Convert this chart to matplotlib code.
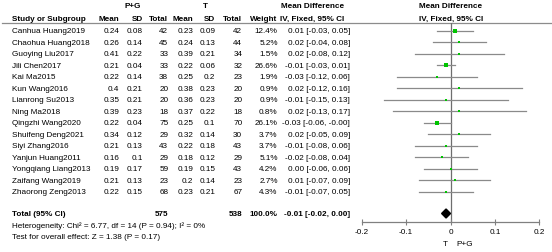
import matplotlib.pyplot as plt
from matplotlib.patches import Polygon

plt.rcParams["font.family"] = ["Liberation Sans", "DejaVu Sans"]

studies = ["Canhua Huang2019", "Chaohua Huang2018", "Guoying Liu2017", "Jili Chen2017",
           "Kai Ma2015", "Kun Wang2016", "Lianrong Su2013", "Ning Ma2018", "Qingzhi Wang2020",
           "Shuifeng Deng2021", "Siyi Zhang2016", "Yanjun Huang2011", "Yongqiang Liang2013",
           "Zaifang Wang2019", "Zhaorong Zeng2013"]
pg_mean = ["0.24", "0.26", "0.41", "0.21", "0.22", "0.4", "0.35", "0.39", "0.22",
           "0.34", "0.21", "0.16", "0.19", "0.21", "0.22"]
pg_sd = ["0.08", "0.14", "0.22", "0.04", "0.14", "0.21", "0.21", "0.23", "0.04",
         "0.12", "0.13", "0.1", "0.17", "0.13", "0.15"]
pg_total = [42, 45, 33, 33, 38, 20, 20, 18, 75, 29, 43, 29, 59, 23, 68]
t_mean = ["0.23", "0.24", "0.39", "0.22", "0.25", "0.38", "0.36", "0.37", "0.25",
          "0.32", "0.22", "0.18", "0.19", "0.2", "0.23"]
t_sd = ["0.09", "0.13", "0.21", "0.06", "0.2", "0.23", "0.23", "0.22", "0.1",
        "0.14", "0.18", "0.12", "0.15", "0.14", "0.21"]
t_total = [42, 44, 34, 32, 23, 20, 20, 18, 70, 30, 43, 29, 43, 23, 67]
weight = [12.4, 5.2, 1.5, 26.6, 1.9, 0.9, 0.9, 0.8, 26.1, 3.7, 3.7, 5.1, 4.2, 2.7, 4.3]
md = [0.01, 0.02, 0.02, -0.01, -0.03, 0.02, -0.01, 0.02, -0.03, 0.02, -0.01, -0.02, 0.00, 0.01, -0.01]
ci_lo = [-0.03, -0.04, -0.08, -0.03, -0.12, -0.12, -0.15, -0.13, -0.06, -0.05, -0.08, -0.08, -0.06, -0.07, -0.07]
ci_hi = [0.05, 0.08, 0.12, 0.01, 0.06, 0.16, 0.13, 0.17, -0.00, 0.09, 0.06, 0.04, 0.06, 0.09, 0.05]

total_pg = 575
total_t = 538
total_md, total_lo, total_hi = -0.01, -0.02, 0.00
xticks = [-0.2, -0.1, 0, 0.1, 0.2]

W, H = 552, 253
fig = plt.figure(figsize=(W / 100, H / 100), dpi=100)

# text layer in pixel coordinates
tx = fig.add_axes([0, 0, 1, 1])
tx.set_xlim(0, W)
tx.set_ylim(H, 0)
tx.axis("off")

fs = 5.9
row0, step = 31.7, 11.5
rows = [row0 + i * step for i in range(len(studies))]
y_total = 214.5

cols = {"m1": 119.3, "s1": 142.7, "n1": 168.3, "m2": 193.3, "s2": 215.3, "n2": 242.3, "w": 277.7, "md": 350}

def t(x, y, s, ha="right", bold=False):
    tx.text(x, y, s, ha=ha, va="center", fontsize=fs, fontweight="bold" if bold else "normal")

# headers
t(132.7, 6.7, "P+G", ha="center", bold=True)
t(205, 6.7, "T", ha="center", bold=True)
t(312.5, 6.7, "Mean Difference", ha="center", bold=True)
t(451, 6.7, "Mean Difference", ha="center", bold=True)
t(11.5, 19, "Study or Subgroup", ha="left", bold=True)
for k, lab in [("m1", "Mean"), ("s1", "SD"), ("n1", "Total"), ("m2", "Mean"),
               ("s2", "SD"), ("n2", "Total"), ("w", "Weight")]:
    t(cols[k], 19, lab, bold=True)
t(312.5, 19, "IV, Fixed, 95% CI", ha="center", bold=True)
t(451, 19, "IV, Fixed, 95% CI", ha="center", bold=True)
tx.plot([2, W], [23.6, 23.6], color="#8c8c8c", lw=0.9)

def fmt(v):
    return f"{v:.2f}"

for i, y in enumerate(rows):
    t(11.5, y, studies[i], ha="left")
    t(cols["m1"], y, pg_mean[i])
    t(cols["s1"], y, pg_sd[i])
    t(cols["n1"], y, str(pg_total[i]))
    t(cols["m2"], y, t_mean[i])
    t(cols["s2"], y, t_sd[i])
    t(cols["n2"], y, str(t_total[i]))
    t(cols["w"], y, f"{weight[i]:.1f}%")
    t(cols["md"], y, f"{fmt(md[i])} [{fmt(ci_lo[i])}, {fmt(ci_hi[i])}]")

t(11.5, y_total, "Total (95% CI)", ha="left", bold=True)
t(cols["n1"], y_total, str(total_pg), bold=True)
t(cols["n2"], y_total, str(total_t), bold=True)
t(cols["w"], y_total, "100.0%", bold=True)
t(cols["md"], y_total, f"{fmt(total_md)} [{fmt(total_lo)}, {fmt(total_hi)}]", bold=True)
t(11.5, 226.5, "Heterogeneity: Chi\u00b2 = 6.77, df = 14 (P = 0.94); I\u00b2 = 0%", ha="left")
t(11.5, 237.5, "Test for overall effect: Z = 1.38 (P = 0.17)", ha="left")

# forest plot
x0, x1 = 361.7, 539.3
ytop, ybot = 23.6, 223.3
ax = fig.add_axes([x0 / W, 1 - ybot / H, (x1 - x0) / W, (ybot - ytop) / H])
ax.set_xlim(-0.2, 0.2)
ax.set_ylim(ybot, ytop)
ax.patch.set_alpha(0)
for s in ["top", "left", "right"]:
    ax.spines[s].set_visible(False)
ax.spines["bottom"].set_color("#808080")
ax.spines["bottom"].set_linewidth(0.9)
ax.set_yticks([])
ax.set_xticks(xticks)
ax.set_xticklabels(["-0.2", "-0.1", "0", "0.1", "0.2"])
ax.tick_params(axis="x", direction="inout", length=4, width=0.8, color="#808080",
               labelsize=fs, pad=2)
ax.axvline(0, color="#6e6e6e", lw=0.9, zorder=1)

for i, y in enumerate(rows):
    ax.plot([ci_lo[i], ci_hi[i]], [y, y], color="#8a8a8a", lw=0.9, zorder=2)
    side_px = 2.0 + 3.0 * weight[i] / 26.6
    ax.plot(md[i], y, marker="s", ms=side_px * 0.72, mew=0, color="#00c400", zorder=3)

ax.add_patch(Polygon([[total_lo, y_total], [total_md, y_total - 4.5],
                      [total_hi, y_total], [total_md, y_total + 4.5]],
                     closed=True, color="black", zorder=4, clip_on=False))

tx.text(448, 244.5, "T", ha="right", va="center", fontsize=fs)
tx.text(456.5, 244.5, "P+G", ha="left", va="center", fontsize=fs)

fig.savefig("out.png", dpi=100)
